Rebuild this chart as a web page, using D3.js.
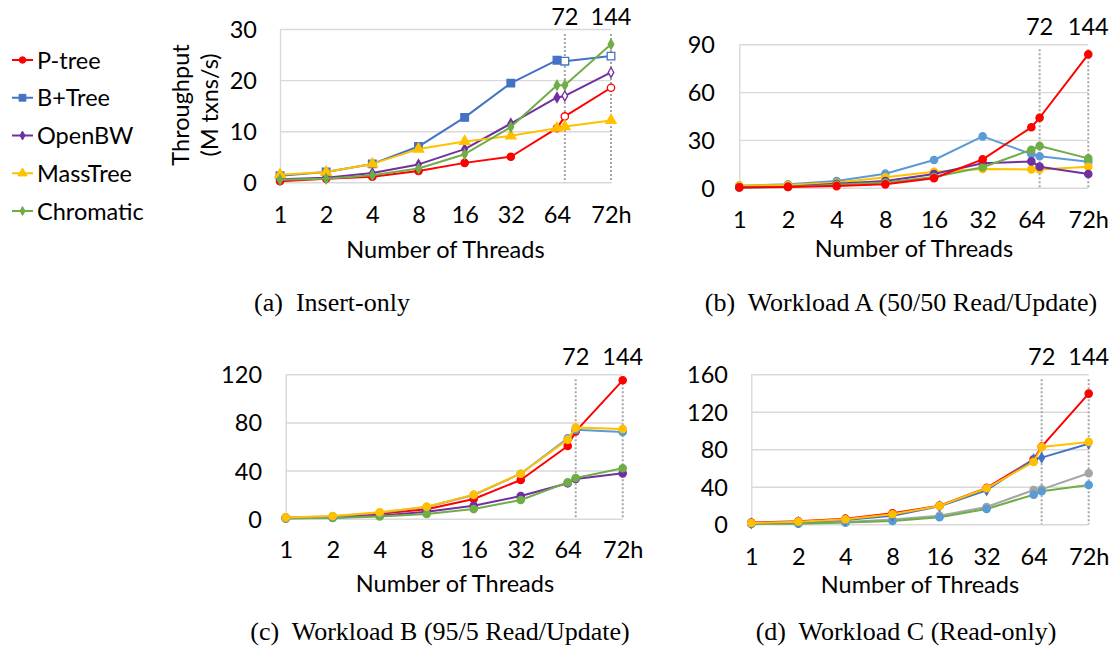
<!DOCTYPE html>
<html><head><meta charset="utf-8">
<script src="https://cdn.jsdelivr.net/npm/d3@7"></script>
<style>body{margin:0;background:#fff}</style>
</head><body><svg id="c" width="1109" height="650" style="display:block;background:#fff"></svg>
<script>
// ---------- data ----------
const threads = [1, 2, 4, 8, 16, 32, 64, 72, 144];
const xTickThreads = [1, 2, 4, 8, 16, 32, 64, 144];
const xTickLabels = ["1", "2", "4", "8", "16", "32", "64", "72h"];
const dottedThreads = [72, 144];
const topLabels = ["72", "144"];
const seriesNames = ["P-tree", "B+Tree", "OpenBW", "MassTree", "Chromatic"];

// (a) Insert-only
const insertPtree     = [0.2, 0.7, 1.1, 2.2, 3.8, 5.0, 10.6, 12.9, 18.5];
const insertBtree     = [1.3, 2.0, 3.6, 7.0, 12.7, 19.4, 23.9, 23.7, 24.7];
const insertOpenBW    = [0.6, 0.9, 1.8, 3.5, 6.5, 11.5, 16.6, 16.9, 21.5];
const insertMassTree  = [1.5, 2.0, 3.6, 6.5, 8.0, 9.1, 10.6, 10.9, 12.1];
const insertChromatic = [0.5, 0.7, 1.4, 2.7, 5.5, 10.8, 19.0, 19.0, 27.0];
const insertTicks = [0, 10, 20, 30];

// (b) Workload A
const aPtree     = [0.2, 0.5, 1.0, 2.1, 5.9, 17.8, 37.9, 43.9, 83.7];
const aBtree     = [1.3, 2.1, 4.2, 8.8, 17.4, 32.2, 21.1, 19.7, 16.3];
const aOpenBW    = [0.2, 0.6, 2.5, 4.2, 8.6, 15.3, 16.5, 13.2, 8.6];
const aMassTree  = [1.3, 1.7, 3.1, 6.5, 10.0, 11.7, 11.5, 11.5, 13.2];
const aChromatic = [0.2, 0.4, 1.9, 3.3, 6.7, 12.8, 23.8, 26.2, 18.4];
const aTicks = [0, 30, 60, 90];

// (c) Workload B
const bPtree     = [0.8, 1.4, 4.2, 7.8, 16.4, 32.2, 60.4, 72.6, 115];
const bBtree     = [1.1, 1.9, 5.0, 9.7, 19.7, 37.4, 66.8, 74.0, 72.0];
const bOpenBW    = [0.3, 0.8, 2.5, 5.8, 10.8, 18.8, 29.4, 33.0, 37.7];
const bMassTree  = [1.1, 2.2, 5.3, 10.0, 20.0, 37.4, 65.7, 75.7, 74.6];
const bChromatic = [0.3, 0.6, 1.9, 3.9, 8.0, 15.5, 30.2, 33.8, 41.9];
const bTicks = [0, 40, 80, 120];

// (d) Workload C
const cPtree     = [1.8, 3.2, 6.0, 11.7, 19.9, 38.8, 69.3, 82.8, 139.4];
const cBtree     = [1.0, 2.5, 4.6, 9.2, 19.2, 36.3, 69.3, 71.1, 86.0];
const cOpenBW    = [0.7, 1.1, 2.5, 5.0, 9.2, 18.5, 36.6, 37.3, 54.4];
const cMassTree  = [1.4, 2.8, 5.3, 10.7, 19.6, 38.4, 66.5, 82.5, 87.8];
const cChromatic = [0.4, 0.7, 1.8, 3.6, 7.5, 16.4, 31.6, 35.2, 42.0];
const cTicks = [0, 40, 80, 120, 160];

const captions = ["(a)  Insert-only", "(b)  Workload A (50/50 Read/Update)",
                  "(c)  Workload B (95/5 Read/Update)", "(d)  Workload C (Read-only)"];
const xTitle = "Number of Threads";
const yTitle = ["Throughput", "(M txns/s)"];

// ---------- styles ----------
const RED = "#FF0000", BLUE = "#4472C4", LBLUE = "#5B9BD5", PURPLE = "#7030A0",
      YELLOW = "#FFC000", GREEN = "#70AD47", GRAY = "#A5A5A5";
const FONT = "Lato, 'Open Sans', sans-serif";
const SERIF = "'Liberation Serif', 'DejaVu Serif', serif";
const FS = 23.5;

const svg = d3.select("#c");

function symbolPath(type, size) {
  const t = {circle: d3.symbolCircle, square: d3.symbolSquare, diamond: d3.symbolDiamond,
             triangle: d3.symbolTriangle}[type];
  return d3.symbol().type(t).size(size)();
}
const symSize = {circle: 42, square: 58, diamond: 28, triangle: 46};

function panel(cfg) {
  const g = svg.append("g");
  const x = d3.scaleLog().base(2).domain([1, 144]).range([cfg.x0, cfg.x1]);
  const y = d3.scaleLinear().domain([0, cfg.yMax]).range([cfg.yB, cfg.yT]);

  const ya = d3.axisLeft(y).tickValues(cfg.yTicks).tickSizeInner(-(cfg.x1 - cfg.x0))
    .tickSizeOuter(0).tickPadding(cfg.x0 - cfg.tickRight);
  const yg = g.append("g").attr("transform", `translate(${cfg.x0},0)`).call(ya);
  yg.selectAll(".tick line").attr("stroke", "#d9d9d9").attr("stroke-width", 1.4);
  yg.select(".domain").attr("stroke", "#d9d9d9").attr("stroke-width", 1.4);
  yg.selectAll("text").attr("font-family", FONT).attr("font-size", FS)
    .attr("fill", "#000").attr("dy", "0.36em");

  const xa = d3.axisBottom(x).tickValues(xTickThreads)
    .tickFormat((d, i) => xTickLabels[i]).tickSize(0)
    .tickPadding(cfg.xLabBase - cfg.yB - 0.71 * FS);
  const xg = g.append("g").attr("transform", `translate(0,${cfg.yB})`).call(xa);
  xg.select(".domain").remove();
  xg.selectAll("text").attr("font-family", FONT).attr("font-size", FS).attr("fill", "#000");

  // dotted markers
  g.selectAll(".dot-line").data(dottedThreads).enter().append("line")
    .attr("x1", d => x(d)).attr("x2", d => x(d))
    .attr("y1", cfg.yT + 5).attr("y2", cfg.yB)
    .attr("stroke", "#a6a6a6").attr("stroke-width", 2).attr("stroke-dasharray", "2,2");
  g.selectAll(".top-lab").data(dottedThreads).enter().append("text")
    .attr("x", d => x(d)).attr("y", cfg.topBase).attr("text-anchor", "middle")
    .attr("font-family", FONT).attr("font-size", FS).text((d, i) => topLabels[i]);

  // x title
  g.append("text").attr("x", cfg.titleX).attr("y", cfg.titleBase).attr("text-anchor", "middle")
    .attr("font-family", FONT).attr("font-size", FS).text(xTitle);

  // series
  const line = d3.line().x((d, i) => x(threads[i])).y(d => y(d));
  cfg.series.forEach(s => {
    g.append("path").datum(s.values).attr("d", line).attr("fill", "none")
      .attr("stroke", s.color).attr("stroke-width", 2).attr("stroke-linejoin", "round");
    g.selectAll(null).data(s.values).enter().append("path")
      .attr("transform", (d, i) => `translate(${x(threads[i])},${y(d)})`)
      .attr("d", symbolPath(s.marker, symSize[s.marker]))
      .attr("fill", (d, i) => (s.hollowEnd && threads[i] >= 72) ? "#fff" : (s.markerFill || s.color))
      .attr("stroke", s.markerStroke || s.color).attr("stroke-width", 1.3);
  });

  // caption
  g.append("text").attr("x", cfg.capX).attr("y", cfg.capBase).attr("text-anchor", "middle")
    .attr("font-family", SERIF).attr("font-size", 26).attr("xml:space", "preserve")
    .style("white-space", "pre").text(cfg.caption);
  return {x, y};
}

panel({
  x0: 280, x1: 611, yB: 182.3, yT: 29, yMax: 30, yTicks: insertTicks, tickRight: 257,
  xLabBase: 223, titleX: 445.5, titleBase: 258, topBase: 25,
  capX: 332, capBase: 311, caption: captions[0],
  series: [
    {values: insertPtree, color: RED, marker: "circle", hollowEnd: true},
    {values: insertBtree, color: BLUE, marker: "square", hollowEnd: true},
    {values: insertOpenBW, color: PURPLE, marker: "diamond", hollowEnd: true},
    {values: insertMassTree, color: YELLOW, marker: "triangle"},
    {values: insertChromatic, color: GREEN, marker: "diamond"}
  ]
});
panel({
  x0: 739.3, x1: 1088.3, yB: 187.7, yT: 44.3, yMax: 90, yTicks: aTicks, tickRight: 715,
  xLabBase: 228, titleX: 914, titleBase: 257, topBase: 35,
  capX: 901, capBase: 311, caption: captions[1],
  series: [
    {values: aBtree, color: LBLUE, marker: "circle"},
    {values: aMassTree, color: YELLOW, marker: "circle"},
    {values: aOpenBW, color: PURPLE, marker: "circle"},
    {values: aChromatic, color: GREEN, marker: "circle"},
    {values: aPtree, color: RED, marker: "circle"}
  ]
});
panel({
  x0: 285.7, x1: 622.7, yB: 518.7, yT: 374.3, yMax: 120, yTicks: bTicks, tickRight: 262,
  xLabBase: 558, titleX: 455, titleBase: 592, topBase: 365,
  capX: 440, capBase: 640, caption: captions[2],
  series: [
    {values: bPtree, color: RED, marker: "circle"},
    {values: bOpenBW, color: PURPLE, marker: "circle"},
    {values: bChromatic, color: GREEN, marker: "circle"},
    {values: bBtree, color: LBLUE, marker: "circle"},
    {values: bMassTree, color: YELLOW, marker: "circle"}
  ]
});
panel({
  x0: 751.3, x1: 1088.7, yB: 524.3, yT: 374.3, yMax: 160, yTicks: cTicks, tickRight: 728,
  xLabBase: 565, titleX: 920, titleBase: 593, topBase: 365,
  capX: 906, capBase: 640, caption: captions[3],
  series: [
    {values: cOpenBW, color: GRAY, marker: "circle"},
    {values: cChromatic, color: GREEN, marker: "circle", markerFill: LBLUE, markerStroke: LBLUE},
    {values: cPtree, color: RED, marker: "circle"},
    {values: cBtree, color: BLUE, marker: "diamond"},
    {values: cMassTree, color: YELLOW, marker: "circle"}
  ]
});

// y title for (a)
svg.append("text").attr("transform", "translate(189,105) rotate(-90)").attr("text-anchor", "middle")
  .attr("font-family", FONT).attr("font-size", FS).text(yTitle[0]);
svg.append("text").attr("transform", "translate(218,105) rotate(-90)").attr("text-anchor", "middle")
  .attr("font-family", FONT).attr("font-size", FS).text(yTitle[1]);

// legend
const legendColors = [RED, BLUE, PURPLE, YELLOW, GREEN];
const legendMarkers = ["circle", "square", "diamond", "triangle", "diamond"];
const legY = d3.scalePoint().domain(seriesNames).range([60, 211]);
const leg = svg.append("g");
seriesNames.forEach((n, i) => {
  const cy = legY(n);
  leg.append("line").attr("x1", 12).attr("x2", 33).attr("y1", cy).attr("y2", cy)
    .attr("stroke", legendColors[i]).attr("stroke-width", 2);
  leg.append("path").attr("transform", `translate(22.5,${cy})`)
    .attr("d", symbolPath(legendMarkers[i], symSize[legendMarkers[i]] * 0.8))
    .attr("fill", legendColors[i]).attr("stroke", legendColors[i]);
  leg.append("text").attr("x", 37).attr("y", cy + 8.5).attr("font-family", FONT)
    .attr("font-size", FS).text(n);
});
</script>
</body></html>
